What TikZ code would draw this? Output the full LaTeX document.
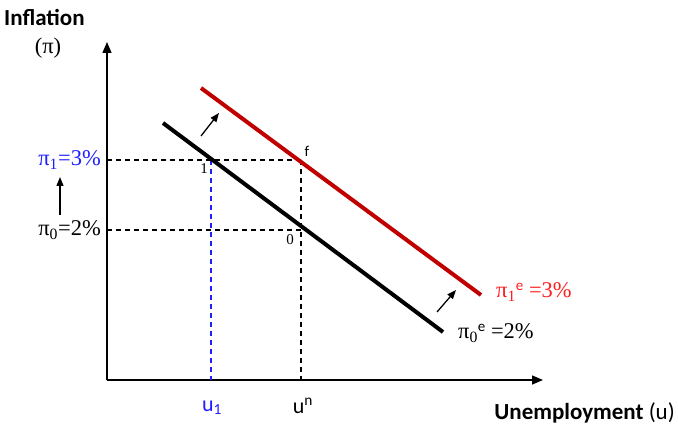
\documentclass[tikz,border=0pt]{standalone}
\usepackage{fontspec}
\setmainfont{Liberation Serif}
\newfontfamily\calib{Carlito}
\usetikzlibrary{arrows.meta}
\definecolor{pcred}{RGB}{192,0,0}
\definecolor{lblred}{RGB}{255,30,30}
\definecolor{lblblue}{RGB}{30,30,255}
\newcommand{\pisym}{π}
\begin{document}
\begin{tikzpicture}[x=1pt,y=-1pt,
  axis/.style={line width=1.5pt,-{Triangle[length=11pt,width=9pt]}},
  curve/.style={line width=4pt},
  guide/.style={line width=1.1pt,dash pattern=on 5pt off 4pt},
  shiftarrow/.style={line width=1.3pt,-{Triangle[length=9pt,width=7pt]}},
  pilbl/.style={font=\fontsize{22.5}{24}\selectfont,inner sep=0pt},
  ptlbl/.style={font=\fontsize{15}{17}\selectfont,inner sep=0pt},
  sanslbl/.style={font=\calib\fontsize{22}{24}\selectfont,inner sep=0pt}]
\useasboundingbox (0,0) rectangle (678,425);
% axes
\coordinate (O) at (107,380);
\coordinate (ytop) at (107,42);
\coordinate (xend) at (543,380);
\draw[axis] (O) -- (ytop);
\draw[axis] (O) -- (xend);
% key points
\coordinate (p1) at (211,160);
\coordinate (pf) at (301,160);
\coordinate (p0) at (301,230);
\coordinate (y1) at (107,160);
\coordinate (y0) at (107,230);
\coordinate (u1x) at (211,380);
\coordinate (unx) at (301,380);
% guides
\draw[guide] (y1) -- (pf);
\draw[guide] (y0) -- (p0);
\draw[guide] (pf) -- (unx);
\draw[guide,lblblue] (p1) -- (u1x);
% curves
\coordinate (b1) at (163,123);
\coordinate (b2) at (443,332);
\coordinate (r1) at (201,88);
\coordinate (r2) at (481,295);
\draw[curve,black] (b1) -- (b2);
\draw[curve,pcred] (r1) -- (r2);
% shift arrows
\coordinate (a1s) at (201,136);
\coordinate (a1e) at (219,113);
\coordinate (a2s) at (437,312);
\coordinate (a2e) at (456,290);
\coordinate (a3s) at (60,215);
\coordinate (a3e) at (60,177);
\draw[shiftarrow] (a1s) -- (a1e);
\draw[shiftarrow] (a2s) -- (a2e);
\draw[shiftarrow] (a3s) -- (a3e);
% labels
\node[font=\calib\bfseries\fontsize{23}{25}\selectfont,anchor=west,inner sep=0pt] (infl) at (4,17) {Inflation};
\node[pilbl,anchor=center] (pipar) at (48,48) {(\pisym)};
\node[pilbl,anchor=east,text=lblblue] (pi1) at (101,160) {\pisym\textsubscript{1}=3\%};
\node[pilbl,anchor=east] (pi0) at (101,230) {\pisym\textsubscript{0}=2\%};
\node[ptlbl] (l1) at (204,169) {1};
\node[ptlbl] (l0) at (290,240) {0};
\node[ptlbl,font=\calib\fontsize{15}{17}\selectfont] (lf) at (307,151) {f};
\node[pilbl,anchor=west,text=lblred] (pi1e) at (496,292) {\pisym\textsubscript{1}\raisebox{7pt}{\calib\fontsize{15}{17}\selectfont e} =3\%};
\node[pilbl,anchor=west] (pi0e) at (458,333) {\pisym\textsubscript{0}\raisebox{7pt}{\calib\fontsize{15}{17}\selectfont e} =2\%};
\node[sanslbl,text=lblblue] (u1) at (212,408) {u\textsubscript{1}};
\node[sanslbl] (un) at (303,406) {u\textsuperscript{n}};
\node[anchor=east,inner sep=0pt,font=\calib\fontsize{23}{25}\selectfont] (unemp) at (675,413) {\textbf{Unemployment} (u)};
\end{tikzpicture}
\end{document}
